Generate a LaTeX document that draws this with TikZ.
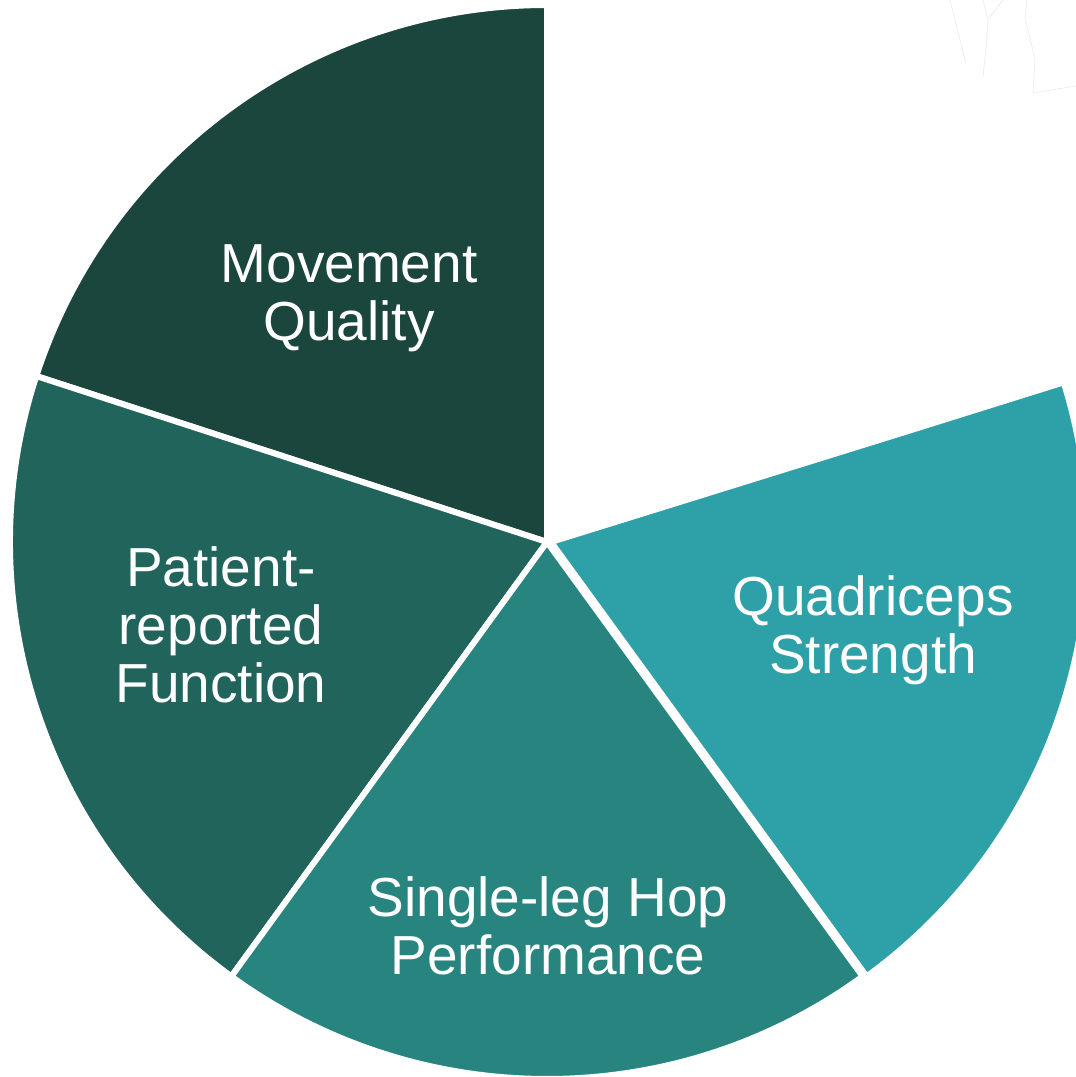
\documentclass[tikz,border=0pt]{standalone}
\usepackage{fontspec}
\setmainfont{Liberation Sans}
\definecolor{cMove}{HTML}{1B463D}
\definecolor{cPat}{HTML}{21645B}
\definecolor{cHop}{HTML}{28847F}
\definecolor{cQuad}{HTML}{2EA0A8}
\definecolor{faint}{HTML}{EBEBEB}
\tikzset{
  slice/.style={draw=white, line width=6pt, line join=miter},
  label/.style={text=white, align=center, font=\fontsize{55}{58}\selectfont, inner sep=0pt},
}
\begin{document}
\begin{tikzpicture}[x=1pt,y=1pt]
\useasboundingbox (0,0) rectangle (1076,1077);
\begin{scope}
\clip (0,0) rectangle (1076,1077);
\coordinate (C) at (547,535);
\def\R{537pt}
% Movement Quality
\fill[cMove, slice] (C) -- ++(90:\R) arc[start angle=90, end angle=162, radius=\R] -- cycle;
% Patient-reported Function
\fill[cPat, slice] (C) -- ++(162:\R) arc[start angle=162, end angle=234, radius=\R] -- cycle;
% Single-leg Hop Performance
\fill[cHop, slice] (C) -- ++(234:\R) arc[start angle=234, end angle=306, radius=\R] -- cycle;
% Quadriceps Strength
\fill[cQuad, slice] ([xshift=4pt]C) -- ++(306:\R) arc[start angle=306, end angle=377.3, radius=\R] -- (905,645) -- cycle;
% faint strokes, upper right
\begin{scope}[faint, line width=0.7pt]
\draw (950,1077) -- (958,1045) -- (966,1014);
\draw (983,1077) -- (988,1057) -- (986,1030) -- (983,1000);
\draw (990,1060) -- (1003,1077);
\draw (1027,1077) -- (1025,1060) -- (1035,1017) -- (1033,984) -- (1076,991);
\end{scope}
\end{scope}
\node[label] (move) at (349,1077-298) {Movement\\Quality};
\node[label] (pat) at (221,1077-625) {Patient-\\reported\\Function};
\node[label] (quad) at (873,1077-630) {Quadriceps\\Strength};
\node[label] (hop) at (548,1077-926) {Single-leg Hop\\Performance};
\end{tikzpicture}
\end{document}
